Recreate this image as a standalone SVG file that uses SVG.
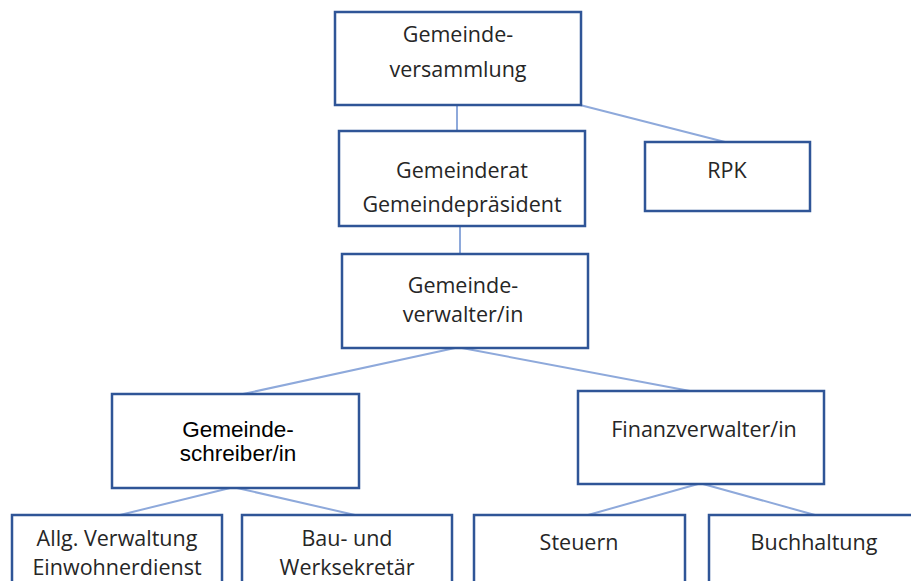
<svg xmlns="http://www.w3.org/2000/svg" width="911" height="581" viewBox="0 0 911 581">
<style>
.box{fill:#fff;stroke:#2F5597;stroke-width:2.5}
.con{stroke:#8EA9DB;stroke-width:2;fill:none}
.t{font-family:"Open Sans","Liberation Sans",sans-serif;font-size:21.5px;fill:#262626;text-anchor:middle}
.a{font-family:"Liberation Sans",Arial,sans-serif;font-size:22.5px;fill:#000;text-anchor:middle}
</style>
<rect width="911" height="581" fill="#fff"/>
<g id="connectors">
<line class="con" x1="457" y1="106" x2="457" y2="131"/>
<line class="con" x1="580" y1="105" x2="725" y2="142"/>
<line class="con" x1="460" y1="226" x2="460" y2="254"/>
<line class="con" x1="455" y1="348" x2="243" y2="394"/>
<line class="con" x1="462" y1="348" x2="690" y2="391"/>
<line class="con" x1="230" y1="488" x2="120" y2="515"/>
<line class="con" x1="237" y1="488" x2="355" y2="515"/>
<line class="con" x1="698" y1="484" x2="588" y2="515"/>
<line class="con" x1="703" y1="484" x2="815" y2="515"/>
</g>
<g id="gemeindeversammlung">
<rect class="box" x="335" y="12" width="246" height="93"/>
<text class="t" x="458" y="42">Gemeinde-</text>
<text class="t" x="458" y="77">versammlung</text>
</g>
<g id="gemeinderat">
<rect class="box" x="339" y="131" width="246" height="95"/>
<text class="t" x="462" y="178">Gemeinderat</text>
<text class="t" x="462" y="212">Gemeindepräsident</text>
</g>
<g id="rpk">
<rect class="box" x="645" y="142" width="165" height="69"/>
<text class="t" x="727" y="178">RPK</text>
</g>
<g id="gemeindeverwalter">
<rect class="box" x="342" y="254" width="246" height="94"/>
<text class="t" x="463" y="293">Gemeinde-</text>
<text class="t" x="463" y="322">verwalter/in</text>
</g>
<g id="gemeindeschreiber">
<rect class="box" x="112" y="394" width="247" height="94"/>
<text class="a" x="238" y="437">Gemeinde-</text>
<text class="a" x="238" y="461">schreiber/in</text>
</g>
<g id="finanzverwalter">
<rect class="box" x="578" y="391" width="246" height="93"/>
<text class="t" x="704" y="437">Finanzverwalter/in</text>
</g>
<g id="allg">
<rect class="box" x="12" y="515" width="210" height="80"/>
<text class="t" x="117" y="546">Allg. Verwaltung</text>
<text class="t" x="117" y="575">Einwohnerdienst</text>
</g>
<g id="bau">
<rect class="box" x="242" y="515" width="210" height="80"/>
<text class="t" x="347" y="546">Bau- und</text>
<text class="t" x="347" y="575">Werksekretär</text>
</g>
<g id="steuern">
<rect class="box" x="474" y="515" width="211" height="80"/>
<text class="t" x="579" y="550">Steuern</text>
</g>
<g id="buchhaltung">
<rect class="box" x="709" y="515" width="220" height="80"/>
<text class="t" x="814" y="550">Buchhaltung</text>
</g>
</svg>
